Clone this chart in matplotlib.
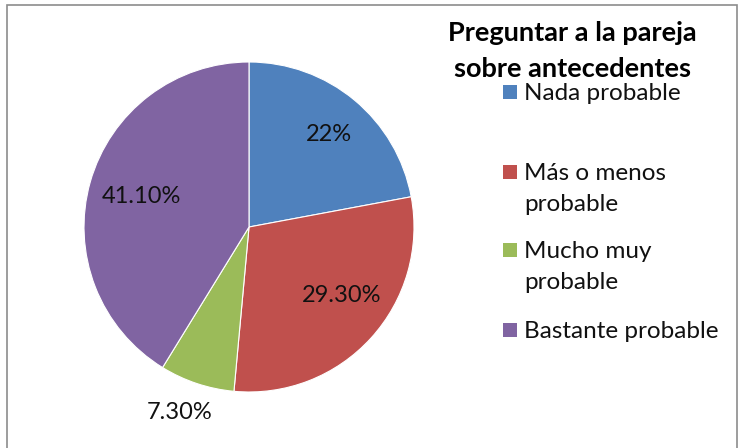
import numpy as np
import matplotlib.pyplot as plt
from matplotlib.patches import Rectangle

plt.rcParams['font.family'] = ['Lato', 'DejaVu Sans']

# data
categories = ['Nada probable', 'Más o menos\nprobable', 'Mucho muy\nprobable', 'Bastante probable']
values = [22.0, 29.3, 7.3, 41.1]
pct_labels = ['22%', '29.30%', '7.30%', '41.10%']
colors = ['#4F81BD', '#C0504D', '#9BBB59', '#8064A2']
title = 'Preguntar a la pareja\nsobre antecedentes'

W, H = 740, 448
fig = plt.figure(figsize=(W / 100, H / 100), dpi=100)
ax = fig.add_axes([0, 0, 1, 1])

# chart border (bottom edge falls outside the image)
fig.patches.append(Rectangle((7 / W, -0.05), (W - 10) / W, 1 - 5 / H + 0.05,
                             transform=fig.transFigure, fill=False,
                             edgecolor='#8c8c8c', linewidth=1.2))

cx, cy, r = 249, H - 227, 165
wedges, texts = ax.pie(values, colors=colors, startangle=90, counterclock=False,
                       center=(cx, cy), radius=r, frame=True,
                       wedgeprops=dict(edgecolor='white', linewidth=0.8))
ax.set_xlim(0, W)
ax.set_ylim(0, H)
ax.set_aspect('equal')
ax.axis('off')

# percentage labels, the small slice gets its label outside
dists = [0.74, 0.7, 1.2, 0.68]
shifts = [-1, 6, -2, 0]  # small angular nudges, degrees
for w, lab, d, s in zip(wedges, pct_labels, dists, shifts):
    mid = np.deg2rad((w.theta1 + w.theta2) / 2 + s)
    ax.text(cx + d * r * np.cos(mid), cy + d * r * np.sin(mid), lab,
            ha='center', va='center', fontsize=17, color='#111111')

fig.text(572 / W, 1 - 51 / H, title, ha='center', va='center', fontsize=19.5,
         fontweight='bold', linespacing=1.6, color='black')

# legend drawn by hand so the swatch lines up with the first text line
leg_rows = [92, 172, 250, 330]  # first-line centres, pixels from top
sw = 14
for w, lab, yrow in zip(wedges, categories, leg_rows):
    fig.patches.append(Rectangle((503 / W, (H - yrow - sw / 2) / H), sw / W, sw / H,
                                 transform=fig.transFigure,
                                 facecolor=w.get_facecolor(), edgecolor='none'))
    fig.text(524 / W, (H - yrow + 9) / H, lab, ha='left', va='top', fontsize=17.5,
             linespacing=1.6, color='#111111')

fig.savefig('out.png', dpi=100)
